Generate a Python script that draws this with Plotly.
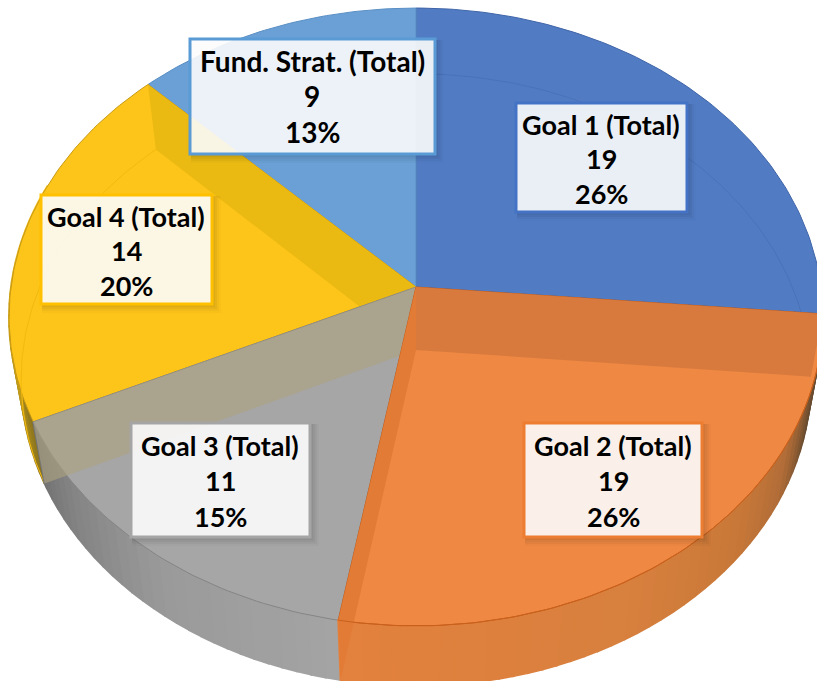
import numpy as np
import plotly.graph_objects as go

# values, clockwise from 12 o'clock
names = ["Goal 1 (Total)", "Goal 2 (Total)", "Goal 3 (Total)", "Goal 4 (Total)", "Fund. Strat. (Total)"]
values = [19, 19, 11, 14, 9]
percents = ["26%", "26%", "15%", "20%", "13%"]

top_colors = ["#517CC4", "#EE8842", "#A6A6A6", "#FDC41A", "#6AA0D6"]
edge_colors = ["#3F64A8", "#C9601C", "#858585", "#C99A14", "#5A8FC4"]
box_colors = ["#4472C4", "#ED7D31", "#A5A5A5", "#FFC000", "#5B9BD5"]

# label boxes: left, right, top, bottom, text centre, three text rows, title size
boxes = [
    (516, 687, 103, 212, 601, (124, 158, 193), 27),
    (524, 702, 423, 537, 613, (445, 480, 516), 27),
    (131, 310, 423, 537, 220, (445, 480, 516), 27),
    (41, 212, 195, 304, 126, (216, 250, 285), 27),
    (190, 435, 39, 154, 312, (61, 96, 132), 28),
]

# side wall shading: angle in degrees against colour
orange_side = [(95, "#4E4030"), (108, "#6E4E30"), (118, "#B06C38"), (130, "#C87838"), (150, "#D8803E"), (190, "#E4823E")]
gray_side = [(190, "#A4A4A4"), (215, "#9A9A9A"), (232, "#858585"), (245, "#727272")]
gold_side = [(245, "#8A7420"), (258, "#C09A18"), (290, "#FDC41A")]

# perspective of the disc, the top and the bottom face share it
PERSP = 0.097
TOP = dict(cx=416, cy=287, a=405, b=306)
BOTTOM = dict(cx=416, cy=350, a=393, b=303)

angles = np.cumsum([0] + values) / sum(values) * 360


def rim(face, deg):
    t = np.radians(deg)
    w = 1 + PERSP * np.cos(t)
    return face["cx"] + face["a"] * np.sin(t) / w, face["cy"] - face["b"] * np.cos(t) / w


def shade(stops, deg):
    pos = [s[0] for s in stops]
    rgb = [[int(s[1][i:i + 2], 16) for i in (1, 3, 5)] for s in stops]
    c = [np.interp(deg, pos, [r[i] for r in rgb]) for i in range(3)]
    return "rgb(%d,%d,%d)" % tuple(c)


fig = go.Figure()


def poly(xs, ys, fill, line=None, width=0):
    fig.add_trace(go.Scatter(
        x=list(xs), y=list(ys), mode="lines", fill="toself", fillcolor=fill,
        line=dict(color=line or fill, width=width), hoverinfo="skip", showlegend=False,
    ))


def wedge(i, face=TOP):
    arc = np.arange(angles[i], angles[i + 1] + 0.5, 1.0)
    xs, ys = rim(face, arc)
    poly([face["cx"], *xs, face["cx"]], [face["cy"], *ys, face["cy"]], top_colors[i], edge_colors[i], 1)


def side(start, end, stops):
    for d in np.arange(start, end, 2.0):
        d2 = min(d + 2.0, end)
        x1, y1 = rim(TOP, np.array([d, d2]))
        x2, y2 = rim(BOTTOM, np.array([d2, d]))
        col = shade(stops, d)
        poly([*x1, *x2, x1[0]], [*y1, *y2, y1[0]], col, col, 2)


def wall(deg, fill):
    xt, yt = rim(TOP, deg)
    xb, yb = rim(BOTTOM, deg)
    poly([TOP["cx"], xt, xb, BOTTOM["cx"]], [TOP["cy"], yt, yb, BOTTOM["cy"]], fill)


def floor_arc(start, end, color):
    xs, ys = rim(BOTTOM, np.arange(start, end + 0.5, 1.0))
    fig.add_trace(go.Scatter(x=xs, y=ys, mode="lines", line=dict(color=color, width=1),
                             hoverinfo="skip", showlegend=False))


# back to front
side(angles[3], 290, gold_side)
wedge(0)
floor_arc(angles[0], angles[1], "#4A72B8")
wedge(4)
wedge(3)
floor_arc(angles[3], angles[4], "#F2B90F")
wall(angles[4], "#EAB912")

side(angles[2], angles[3], gray_side)
wedge(2)
wall(angles[3], "rgba(172,162,128,0.62)")

side(angles[1], angles[2], orange_side)
wedge(1)
wall(angles[1], "#D87A3E")
wall(angles[2], "#E27B35")

# top rim line over the front of the walls
xs, ys = rim(TOP, np.arange(angles[1], angles[2] + 0.5, 1.0))
fig.add_trace(go.Scatter(x=xs, y=ys, mode="lines", line=dict(color="#C9601C", width=1),
                         hoverinfo="skip", showlegend=False))

for i, (x0, x1, y0, y1, xc, rows, size) in enumerate(boxes):
    # soft shadow out of a few stacked rects
    for off, alpha in ((9, 0.02), (7, 0.03), (5, 0.04), (3, 0.04)):
        fig.add_shape(type="rect", x0=x0 + 1, x1=x1 + off, y0=y0 + 1, y1=y1 + off,
                      fillcolor="rgba(0,0,0,%g)" % alpha, line_width=0)
    fig.add_shape(type="rect", x0=x0, x1=x1, y0=y0, y1=y1, fillcolor="rgb(255,255,255)",
                  opacity=0.89, line=dict(color=box_colors[i], width=0))
    fig.add_shape(type="rect", x0=x0, x1=x1, y0=y0, y1=y1, fillcolor="rgba(0,0,0,0)",
                  line=dict(color=box_colors[i], width=3))
    texts = [names[i], str(values[i]), percents[i]]
    for txt, yc in zip(texts, rows):
        fig.add_annotation(x=xc, y=yc, text="<b>%s</b>" % txt, showarrow=False,
                           font=dict(family="Lato", size=size, weight=900, color="#000000"))

fig.update_xaxes(range=[0, 817], visible=False, fixedrange=True)
fig.update_yaxes(range=[681, 0], visible=False, fixedrange=True)
fig.update_layout(
    width=817, height=681, margin=dict(l=0, r=0, t=0, b=0),
    paper_bgcolor="#FFFFFF", plot_bgcolor="#FFFFFF", showlegend=False,
)
# the page's default body margin would push the chart 8px off
fig.write_html("out.html", config={"displayModeBar": False},
               post_script="document.body.style.margin='0';")
